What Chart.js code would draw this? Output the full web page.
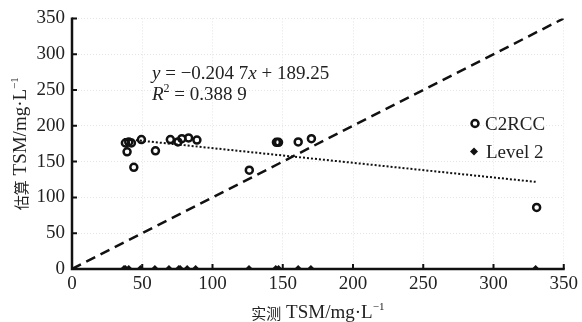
<!DOCTYPE html>
<html>
<head>
<meta charset="utf-8">
<script src="https://cdn.jsdelivr.net/npm/chart.js@4.4.0/dist/chart.umd.min.js"></script>
<style>
  html, body { margin: 0; padding: 0; background: #fff; }
  #wrap { width: 582px; height: 322px; position: relative; }
</style>
</head>
<body>
<div id="wrap"><canvas id="chart"></canvas></div>
<script>
// measured vs estimated TSM (mg/L)
const C2RCC_X = [38, 40.4, 42.3, 39.2, 44, 49.4, 59.4, 70, 75.4, 78.2, 83, 88.9, 126.2, 145.5, 147, 161, 170.4, 330.7];
const C2RCC_Y = [176, 177.5, 176, 163.6, 142, 180.8, 165, 180.8, 177.5, 182, 183, 180, 138, 177, 177, 177.5, 182, 86];

const L2_X = [37, 38, 40.4, 48.7, 59, 69, 76, 77, 82, 88, 126, 145, 147, 161, 170, 330];
const L2_Y = [0, 0, 0, 0, 0, 0, 0, 0, 0, 0, 0, 0, 0, 0, 0, 0];

// linear fit of C2RCC, end points
const FIT_X = [37, 330];
const FIT_Y = [181.7, 121.7];

// 1:1 line
const ONE_X = [0, 350];
const ONE_Y = [0, 350];

const AXIS_TICKS = [0, 50, 100, 150, 200, 250, 300, 350];

const SERIF = "'Liberation Serif', 'Times New Roman', serif";
const CJK = "'Noto Sans CJK SC', sans-serif";

const pts = (xs, ys) => xs.map((x, i) => ({ x, y: ys[i] }));

// draw a row of text runs with different fonts
function drawRuns(ctx, x, y, runs, align) {
  let total = 0;
  runs.forEach(r => { ctx.font = r.font; r.w = ctx.measureText(r.text).width; total += r.w; });
  let cx = align === 'center' ? x - total / 2 : x;
  runs.forEach(r => {
    ctx.font = r.font;
    ctx.fillText(r.text, cx, y + (r.dy || 0));
    cx += r.w;
  });
}

function titleRuns(cn) {
  return [
    { text: cn, font: `15px ${CJK}`, dy: 1 },
    { text: ' TSM/mg\u00b7L', font: `19px ${SERIF}` },
    { text: '\u22121', font: `11px ${SERIF}`, dy: -8 },
  ];
}

const decor = {
  id: 'decor',
  beforeDatasetsDraw(chart) {
    const { ctx, chartArea: a, scales: { x, y } } = chart;
    ctx.save();
    ctx.strokeStyle = '#111';
    ctx.lineWidth = 2.5;
    ctx.beginPath();
    ctx.moveTo(a.left, a.top - 1);
    ctx.lineTo(a.left, a.bottom);
    ctx.lineTo(a.right + 1, a.bottom);
    ctx.stroke();
    ctx.lineWidth = 2;
    ctx.beginPath();
    AXIS_TICKS.forEach(v => {
      const px = x.getPixelForValue(v);
      ctx.moveTo(px, a.bottom);
      ctx.lineTo(px, a.bottom - 5);
      const py = y.getPixelForValue(v);
      ctx.moveTo(a.left, py);
      ctx.lineTo(a.left + 5, py);
    });
    ctx.stroke();
    ctx.restore();
  },
  afterDraw(chart) {
    const { ctx, chartArea: a } = chart;
    ctx.save();
    ctx.fillStyle = '#222';
    ctx.textBaseline = 'alphabetic';
    ctx.textAlign = 'left';

    // equation
    drawRuns(ctx, 152, 79, [
      { text: 'y', font: `italic 19px ${SERIF}` },
      { text: ' = \u22120.204 7', font: `19px ${SERIF}` },
      { text: 'x', font: `italic 19px ${SERIF}` },
      { text: ' + 189.25', font: `19px ${SERIF}` },
    ]);
    drawRuns(ctx, 152, 100, [
      { text: 'R', font: `italic 19px ${SERIF}` },
      { text: '2', font: `12px ${SERIF}`, dy: -8 },
      { text: ' = 0.388 9', font: `19px ${SERIF}` },
    ]);

    // legend
    ctx.strokeStyle = '#111';
    ctx.lineWidth = 2.5;
    ctx.beginPath();
    ctx.arc(475, 123.5, 3.5, 0, Math.PI * 2);
    ctx.stroke();
    ctx.fillStyle = '#111';
    ctx.beginPath();
    ctx.moveTo(474, 147.5); ctx.lineTo(478, 151.5); ctx.lineTo(474, 155.5); ctx.lineTo(470, 151.5);
    ctx.closePath();
    ctx.fill();
    ctx.fillStyle = '#222';
    ctx.font = `19px ${SERIF}`;
    ctx.fillText('C2RCC', 485, 130);
    ctx.fillText('Level 2', 486, 158);

    // axis titles
    drawRuns(ctx, (a.left + a.right) / 2, 318, titleRuns('\u5b9e\u6d4b'), 'center');
    ctx.translate(26, (a.top + a.bottom) / 2);
    ctx.rotate(-Math.PI / 2);
    drawRuns(ctx, 0, 0, titleRuns('\u4f30\u7b97'), 'center');
    ctx.restore();
  }
};

const axisCommon = {
  type: 'linear',
  min: 0,
  max: 350,
  border: { display: false, dash: [1, 2] },
  grid: { color: '#e4e4e4', lineWidth: 1, drawTicks: false },
  title: { display: false },
};

new Chart(document.getElementById('chart'), {
  type: 'scatter',
  data: {
    datasets: [
      {
        label: '1:1',
        type: 'line',
        data: pts(ONE_X, ONE_Y),
        borderColor: '#111',
        borderWidth: 2.5,
        borderDash: [10, 6],
        pointRadius: 0,
        fill: false,
      },
      {
        label: 'fit',
        type: 'line',
        data: pts(FIT_X, FIT_Y),
        borderColor: '#111',
        borderWidth: 2,
        borderDash: [2, 2],
        pointRadius: 0,
        fill: false,
      },
      {
        label: 'Level 2',
        data: pts(L2_X, L2_Y),
        pointStyle: 'rectRot',
        pointRadius: 4,
        backgroundColor: '#111',
        borderColor: '#111',
        borderWidth: 0,
      },
      {
        label: 'C2RCC',
        data: pts(C2RCC_X, C2RCC_Y),
        pointStyle: 'circle',
        pointRadius: 3.5,
        backgroundColor: 'rgba(0,0,0,0)',
        borderColor: '#111',
        borderWidth: 2.5,
      },
    ]
  },
  options: {
    responsive: true,
    maintainAspectRatio: false,
    animation: false,
    layout: { padding: { top: 17, right: 15, left: 0, bottom: 0 } },
    plugins: { legend: { display: false }, tooltip: { enabled: false } },
    scales: {
      x: {
        ...axisCommon,
        ticks: { stepSize: 50, padding: 4, color: '#222', font: { family: SERIF, size: 19 } },
        afterFit: s => { s.height = 53; },
      },
      y: {
        ...axisCommon,
        ticks: { stepSize: 50, padding: 7, color: '#222', font: { family: SERIF, size: 19 } },
        afterFit: s => { s.width = 72; },
      },
    },
  },
  plugins: [decor],
});
</script>
</body>
</html>
